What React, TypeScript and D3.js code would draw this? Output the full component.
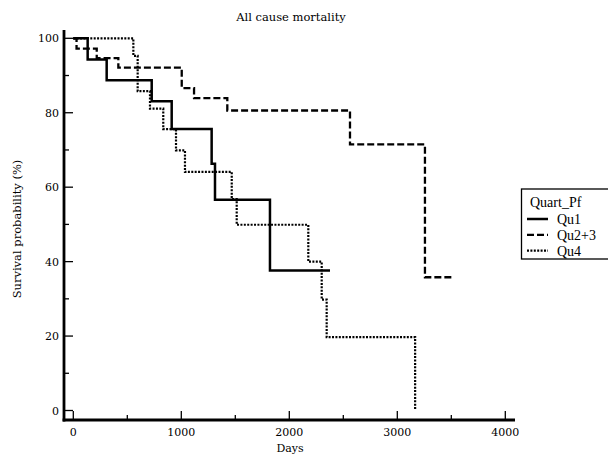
import React from 'react';
import * as d3 from 'd3';

const qu1Days = [0, 133, 309, 726, 911, 1281, 1312, 1821, 2377];
const qu1Surv = [100, 94.3, 88.7, 83.1, 75.6, 66.3, 56.6, 37.6, 37.6];
const qu23Days = [0, 30, 217, 417, 1004, 1118, 1426, 2562, 3256, 3504];
const qu23Surv = [100, 97.2, 94.7, 92.1, 86.6, 83.9, 80.6, 71.5, 35.8, 35.8];
const qu4Days = [0, 556, 596, 710, 833, 951, 1034, 1467, 1513, 2176, 2300, 2346, 3165];
const qu4Surv = [100, 95.3, 85.8, 81.1, 75.6, 69.9, 64.1, 56.8, 49.9, 40.0, 29.8, 19.7, 0];

const xTicks = [0, 1000, 2000, 3000, 4000];
const xMinor = [500, 1500, 2500, 3500];
const yTicks = [0, 20, 40, 60, 80, 100];
const yMinor = [10, 30, 50, 70, 90];

const groups = ['Qu1', 'Qu2+3', 'Qu4'];

const serif = '"DejaVu Serif", serif';
const times = '"Liberation Serif", serif';

export default function App() {
  const width = 608;
  const height = 456;

  const x = d3.scaleLinear().domain([0, 4000]).range([73.3, 505.3]);
  const y = d3.scaleLinear().domain([0, 100]).range([410.5, 38.3]);

  const line = d3
    .line<[number, number]>()
    .x((d) => x(d[0]))
    .y((d) => y(d[1]))
    .curve(d3.curveStepAfter);

  const series = [
    { days: qu1Days, surv: qu1Surv, dash: null, w: 2.5 },
    { days: qu23Days, surv: qu23Surv, dash: '7,3', w: 2.3 },
    { days: qu4Days, surv: qu4Surv, dash: '2,1.4', w: 2.2 },
  ];

  const axisX = 64;
  const axisY = 420;

  return (
    <svg
      width={width}
      height={height}
      style={{ position: 'absolute', left: 0, top: 0, background: '#fff' }}
    >
      <rect width={width} height={height} fill="#fff" />
      <text x={291} y={21} textAnchor="middle" fontFamily={serif} fontSize={11.5}>
        All cause mortality
      </text>

      {/* y axis */}
      <line x1={axisX} x2={axisX} y1={30} y2={axisY + 1.5} stroke="#000" strokeWidth={2.8} />
      {yTicks.map((t) => (
        <g key={'yt' + t}>
          <line x1={axisX} x2={axisX + 9} y1={y(t)} y2={y(t)} stroke="#000" strokeWidth={1.3} />
          <text
            x={59}
            y={y(t) + 4}
            textAnchor="end"
            fontFamily={serif}
            fontSize={11}
          >
            {t}
          </text>
        </g>
      ))}
      {yMinor.map((t) => (
        <line key={'ym' + t} x1={axisX} x2={axisX + 5} y1={y(t)} y2={y(t)} stroke="#000" strokeWidth={1.3} />
      ))}
      <text
        transform={`translate(21,229) rotate(-90)`}
        textAnchor="middle"
        fontFamily={serif}
        fontSize={11.5}
      >
        Survival probability (%)
      </text>

      {/* x axis */}
      <line x1={axisX - 1.4} x2={515} y1={axisY} y2={axisY} stroke="#000" strokeWidth={2.8} />
      {xTicks.map((t) => (
        <g key={'xt' + t}>
          <line x1={x(t)} x2={x(t)} y1={axisY} y2={axisY - 9} stroke="#000" strokeWidth={1.3} />
          <text x={x(t)} y={436} textAnchor="middle" fontFamily={serif} fontSize={11}>
            {t}
          </text>
        </g>
      ))}
      {xMinor.map((t) => (
        <line key={'xm' + t} x1={x(t)} x2={x(t)} y1={axisY} y2={axisY - 5} stroke="#000" strokeWidth={1.3} />
      ))}
      <text x={290} y={452} textAnchor="middle" fontFamily={serif} fontSize={11}>
        Days
      </text>

      {/* survival curves */}
      {series.map((s, i) => (
        <path
          key={groups[i]}
          d={line(s.days.map((d, j) => [d, s.surv[j]] as [number, number])) || ''}
          fill="none"
          stroke="#000"
          strokeWidth={s.w}
          strokeDasharray={s.dash || undefined}
        />
      ))}

      {/* legend */}
      <rect x={521.5} y={189} width={92} height={70} fill="#fff" stroke="#000" strokeWidth={1.3} />
      <text x={530} y={206.5} fontFamily={times} fontSize={14}>
        Quart_Pf
      </text>
      {series.map((s, i) => {
        const ly = 219 + i * 15.8;
        return (
          <g key={'lg' + i}>
            <line
              x1={527}
              x2={548}
              y1={ly}
              y2={ly}
              stroke="#000"
              strokeWidth={s.w}
              strokeDasharray={s.dash || undefined}
            />
            <text x={557} y={ly + 5} fontFamily={times} fontSize={14}>
              {groups[i]}
            </text>
          </g>
        );
      })}
    </svg>
  );
}
